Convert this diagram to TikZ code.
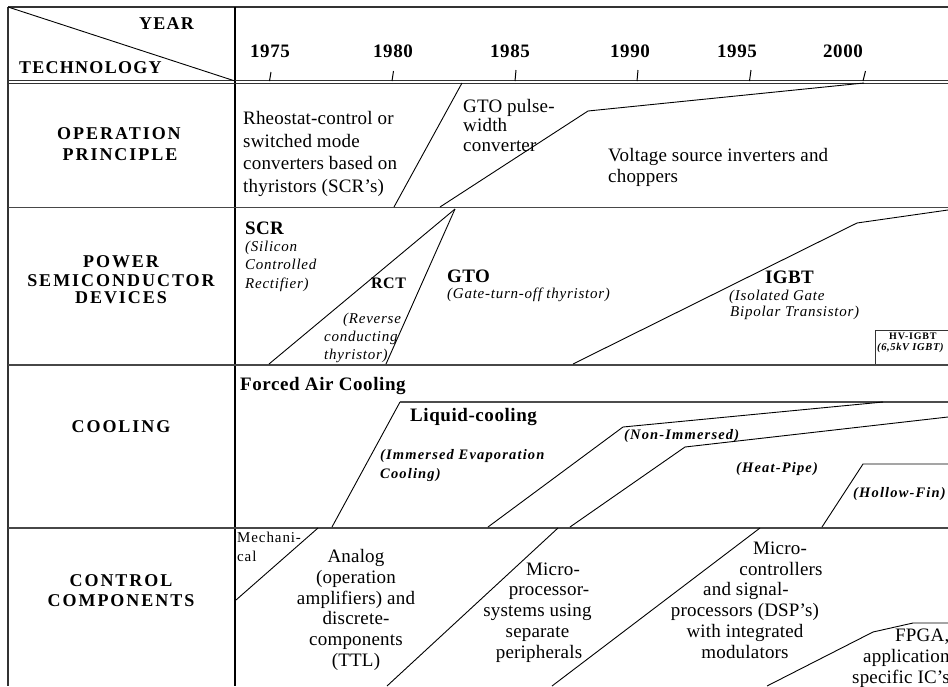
\documentclass[tikz,border=0pt]{standalone}
\usepackage{fontspec}
\setmainfont{Liberation Serif}
\begin{document}
\begin{tikzpicture}[x=1pt,y=-1pt,
  frame/.style={line width=2pt, draw=black!80},
  divider/.style={line width=2.4pt, draw=black},
  rowrule/.style={line width=1.8pt, draw=black!72},
  thinrule/.style={line width=1pt, draw=black!80},
  trend/.style={line width=0.9pt, draw=black},
  tick/.style={line width=1pt, draw=black},
  lbl/.style={inner sep=0pt, anchor=base},
  lblw/.style={inner sep=0pt, anchor=base west},
  rowlabel/.style={lbl, font=\fontsize{18}{20}\selectfont\bfseries\addfontfeature{LetterSpace=11}},
  headlabel/.style={lblw, font=\fontsize{18}{20}\selectfont\bfseries\addfontfeature{LetterSpace=7}},
  yearlabel/.style={lbl, font=\fontsize{19}{21}\selectfont\bfseries\addfontfeature{LetterSpace=3}},
  body/.style={lblw, font=\fontsize{19}{21}\selectfont\addfontfeature{LetterSpace=1}},
  bodyc/.style={lbl, font=\fontsize{19}{21}\selectfont\addfontfeature{LetterSpace=1}},
  small/.style={lblw, font=\fontsize{15}{17}\selectfont\addfontfeature{LetterSpace=6}},
  devname/.style={lblw, font=\fontsize{19}{21}\selectfont\bfseries\addfontfeature{LetterSpace=2}},
  devnote/.style={lblw, font=\fontsize{15}{17}\selectfont\itshape\addfontfeature{LetterSpace=5}},
  coolname/.style={lblw, font=\fontsize{19}{21}\selectfont\bfseries\addfontfeature{LetterSpace=3}},
  coolnote/.style={lblw, font=\fontsize{14.5}{17}\selectfont\bfseries\itshape\addfontfeature{LetterSpace=8}},
  tinybold/.style={lblw, font=\fontsize{10}{11}\selectfont\bfseries\addfontfeature{LetterSpace=8}},
  tinynote/.style={lblw, font=\fontsize{10.5}{11}\selectfont\bfseries\itshape\addfontfeature{LetterSpace=6}}
]
\useasboundingbox (0,0) rectangle (948,686);
\begin{scope}
\clip (0,0) rectangle (948,686);

% ---------- table frame ----------
\draw[frame] (8,7) -- (948,7);
\draw[frame] (8,7) -- (8,686);
\draw[divider] (235,7) -- (235,686);
\draw[thinrule] (8,80.6) -- (948,80.6);
\draw[thinrule] (8,83.4) -- (948,83.4);
\draw[rowrule] (8,207.5) -- (948,207.5);
\draw[rowrule] (8,364.8) -- (948,364.8);
\draw[rowrule] (8,528) -- (948,528);
\draw[trend] (8,7) -- (235,81);

% ---------- header ----------
\node[headlabel] (year) at (139,29) {YEAR};
\node[headlabel] (tech) at (19,73) {TECHNOLOGY};

\node[yearlabel] (y1975) at (270,57) {1975};
\node[yearlabel] (y1980) at (393,57) {1980};
\node[yearlabel] (y1985) at (510,57) {1985};
\node[yearlabel] (y1990) at (630,57) {1990};
\node[yearlabel] (y1995) at (737,57) {1995};
\node[yearlabel] (y2000) at (843,57) {2000};

\draw[tick] (271,72) -- (269.5,81);
\draw[tick] (393.5,71) -- (392,81);
\draw[tick] (516,70) -- (515,81);
\draw[tick] (638,70) -- (637,81);
\draw[tick] (751,70) -- (749.5,81);
\draw[tick] (865.5,71) -- (863,81);

% ---------- row titles ----------
\node[rowlabel] (op1) at (119,139) {OPERATION};
\node[rowlabel] (op2) at (120,160.5) {PRINCIPLE};
\node[rowlabel] (pw1) at (121,267) {POWER};
\node[rowlabel] (pw2) at (121,286) {SEMICONDUCTOR};
\node[rowlabel] (pw3) at (121,303.5) {DEVICES};
\node[rowlabel] (co1) at (121,432) {COOLING};
\node[rowlabel] (ct1) at (121,586) {CONTROL};
\node[rowlabel] (ct2) at (121,606) {COMPONENTS};

% ---------- operation principle ----------
\draw[trend] (394,207) -- (462,83);
\draw[trend] (440,207) -- (588,111) -- (864,83);

\node[body] (rh1) at (243,124.5) {Rheostat-control or};
\node[body] (rh2) at (243,147) {switched mode};
\node[body] (rh3) at (243,169.5) {converters based on};
\node[body] (rh4) at (243,192) {thyristors (SCR’s)};

\node[body] (gp1) at (463,112) {GTO pulse-};
\node[body] (gp2) at (463,131.5) {width};
\node[body] (gp3) at (463,151) {converter};

\node[body] (vs1) at (608,161.5) {Voltage source inverters and};
\node[body] (vs2) at (608,182) {choppers};

% ---------- power semiconductor devices ----------
\draw[trend] (269,364) -- (455,209);
\draw[trend] (386,364) -- (455,209);
\draw[trend] (573,364) -- (857,223) -- (948,210);
\draw[thinrule, line width=0.9pt] (875,364) -- (875,330) -- (948,330);

\node[devname] (scr) at (245,234) {SCR};
\node[devnote] (scr1) at (245,251) {(Silicon};
\node[devnote] (scr2) at (245,269.5) {Controlled};
\node[devnote] (scr3) at (245,288) {Rectifier)};

\node[lblw, font=\fontsize{16}{18}\selectfont\bfseries\addfontfeature{LetterSpace=3}] (rct) at (371,288) {RCT};
\node[devnote] (rct1) at (343,323.5) {(Reverse};
\node[devnote] (rct2) at (324,341.5) {conducting};
\node[devnote] (rct3) at (324,359.5) {thyristor)};

\node[devname] (gto) at (447,282) {GTO};
\node[devnote] (gto1) at (447,298) {(Gate-turn-off thyristor)};

\node[devname] (igbt) at (765,283.5) {IGBT};
\node[devnote] (igbt1) at (729,300) {(Isolated Gate};
\node[devnote] (igbt2) at (730,316) {Bipolar Transistor)};

\node[tinybold] (hv1) at (889,339.5) {HV-IGBT};
\node[tinynote] (hv2) at (877,350) {(6,5kV IGBT)};

% ---------- cooling ----------
\draw[trend] (332,527) -- (400,402);
\draw[line width=1.3pt, draw=black!70] (400,402) -- (948,402);
\draw[trend] (488,527) -- (623,427) -- (883,402);
\draw[trend] (570,527) -- (685,447) -- (948,417);
\draw[trend] (822,527) -- (863,464) -- (948,464);

\node[coolname] (fac) at (240,390) {Forced Air Cooling};
\node[coolname] (liq) at (410,421) {Liquid-cooling};
\node[coolnote] (iec1) at (380,459.5) {(Immersed Evaporation};
\node[coolnote] (iec2) at (380,478) {Cooling)};
\node[coolnote] (nim) at (624,439.5) {(Non-Immersed)};
\node[coolnote] (hp) at (736,472) {(Heat-Pipe)};
\node[coolnote] (hf) at (853,497) {(Hollow-Fin)};

% ---------- control components ----------
\draw[trend] (236,600) -- (318,528);
\draw[trend] (387,686) -- (558,528);
\draw[trend] (552,686) -- (760,528);
\draw[trend] (767,686) -- (873,632) -- (913,623) -- (948,623);

\node[small] (mec1) at (237,542.5) {Mechani-};
\node[small] (mec2) at (237,561.5) {cal};

\node[bodyc] (an1) at (356,562.5) {Analog};
\node[bodyc] (an2) at (356,583.3) {(operation};
\node[bodyc] (an3) at (356,604) {amplifiers) and};
\node[bodyc] (an4) at (356,624.8) {discrete-};
\node[bodyc] (an5) at (356,645.6) {components};
\node[bodyc] (an6) at (356,666.4) {(TTL)};

\node[bodyc] (mp1) at (553,575) {Micro-};
\node[bodyc] (mp2) at (549,595.5) {processor-};
\node[bodyc] (mp3) at (537.5,616) {systems using};
\node[bodyc] (mp4) at (537.5,637) {separate};
\node[bodyc] (mp5) at (539,658) {peripherals};

\node[bodyc] (mc1) at (780,554) {Micro-};
\node[bodyc] (mc2) at (781,575) {controllers};
\node[bodyc] (mc3) at (746,595.5) {and signal-};
\node[bodyc] (mc4) at (745,616) {processors (DSP’s)};
\node[bodyc] (mc5) at (745,637) {with integrated};
\node[bodyc] (mc6) at (745,658) {modulators};

\node[body] (fp1) at (895,641.5) {FPGA,};
\node[body] (fp2) at (863,662) {applications};
\node[body] (fp3) at (852,683) {specific IC’s};
\end{scope}
\end{tikzpicture}
\end{document}
